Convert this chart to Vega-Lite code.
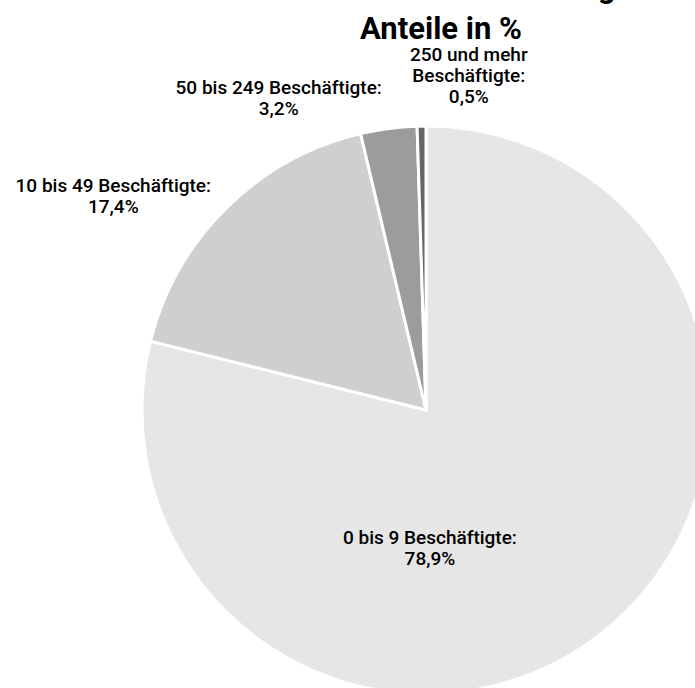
{
  "$schema": "https://vega.github.io/schema/vega-lite/v6.json",
  "width": 852,
  "height": 700,
  "autosize": {"type": "none"},
  "padding": {"top": 60, "left": 0, "right": 0, "bottom": 0},
  "background": "white",
  "view": {"stroke": null},
  "title": {
    "text": "Betriebe nach Zahl der Beschäftigten 2020",
    "subtitle": "Anteile in %",
    "anchor": "middle",
    "dx": 15,
    "font": "Roboto",
    "fontSize": 31,
    "fontWeight": 700,
    "color": "black",
    "subtitleFont": "Roboto",
    "subtitleFontSize": 31,
    "subtitleFontWeight": 700,
    "subtitleColor": "black",
    "subtitlePadding": 10,
    "offset": 0
  },
  "data": {
    "values": [
      {"Klasse": "0 bis 9 Beschäftigte", "Anteil": 78.9, "Rang": 1, "Label": "0 bis 9 Beschäftigte:\n78,9%"},
      {"Klasse": "10 bis 49 Beschäftigte", "Anteil": 17.4, "Rang": 2, "Label": "10 bis 49 Beschäftigte:\n17,4%"},
      {"Klasse": "50 bis 249 Beschäftigte", "Anteil": 3.2, "Rang": 3, "Label": "50 bis 249 Beschäftigte:\n3,2%"},
      {"Klasse": "250 und mehr Beschäftigte", "Anteil": 0.5, "Rang": 4, "Label": "250 und mehr\nBeschäftigte:\n0,5%"}
    ]
  },
  "encoding": {
    "theta": {"field": "Anteil", "type": "quantitative", "stack": true},
    "order": {"field": "Rang", "type": "ordinal"}
  },
  "layer": [
    {
      "mark": {"type": "arc", "outerRadius": 284, "stroke": "white", "strokeWidth": 3},
      "encoding": {
        "color": {
          "field": "Klasse",
          "type": "nominal",
          "scale": {
            "domain": ["0 bis 9 Beschäftigte", "10 bis 49 Beschäftigte", "50 bis 249 Beschäftigte", "250 und mehr Beschäftigte"],
            "range": ["#e6e6e6", "#cfcfcf", "#9c9c9c", "#666666"]
          },
          "legend": null
        }
      }
    },
    {
      "mark": {"type": "text", "radius": 112, "dx": -65, "dy": 40, "font": "Roboto", "fontSize": 19, "fontWeight": 500, "lineBreak": "\n", "lineHeight": 21, "align": "center", "baseline": "middle", "color": "black"},
      "encoding": {"text": {"condition": {"test": "datum.Rang === 1", "field": "Label", "type": "nominal"}, "value": ""}}
    },
    {
      "mark": {"type": "text", "radius": 371, "dx": -52, "dy": 40, "font": "Roboto", "fontSize": 19, "fontWeight": 500, "lineBreak": "\n", "lineHeight": 21, "align": "center", "baseline": "middle", "color": "black"},
      "encoding": {"text": {"condition": {"test": "datum.Rang === 2", "field": "Label", "type": "nominal"}, "value": ""}}
    },
    {
      "mark": {"type": "text", "radius": 329, "dx": -104, "dy": 4, "font": "Roboto", "fontSize": 19, "fontWeight": 500, "lineBreak": "\n", "lineHeight": 21, "align": "center", "baseline": "middle", "color": "black"},
      "encoding": {"text": {"condition": {"test": "datum.Rang === 3", "field": "Label", "type": "nominal"}, "value": ""}}
    },
    {
      "mark": {"type": "text", "radius": 333, "dx": 48, "dy": -22, "font": "Roboto", "fontSize": 19, "fontWeight": 500, "lineBreak": "\n", "lineHeight": 21, "align": "center", "baseline": "middle", "color": "black"},
      "encoding": {"text": {"condition": {"test": "datum.Rang === 4", "field": "Label", "type": "nominal"}, "value": ""}}
    }
  ]
}
